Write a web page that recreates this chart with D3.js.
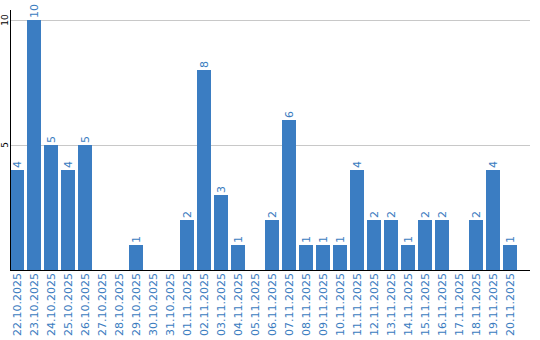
<!DOCTYPE html>
<html>
<head>
<meta charset="utf-8">
<script src="https://cdn.jsdelivr.net/npm/d3@7"></script>
<style>
  body { margin: 0; background: #fff; }
  text { font-family: "DejaVu Sans", sans-serif; }
</style>
</head>
<body>
<div id="chart"></div>
<script>
// daily counts
var days = ["22.10.2025","23.10.2025","24.10.2025","25.10.2025","26.10.2025","27.10.2025",
	"28.10.2025","29.10.2025","30.10.2025","31.10.2025","01.11.2025","02.11.2025",
	"03.11.2025","04.11.2025","05.11.2025","06.11.2025","07.11.2025","08.11.2025",
	"09.11.2025","10.11.2025","11.11.2025","12.11.2025","13.11.2025","14.11.2025",
	"15.11.2025","16.11.2025","17.11.2025","18.11.2025","19.11.2025","20.11.2025"];
var counts = [4,10,5,4,5,0,0,1,0,0,2,8,3,1,0,2,6,1,1,1,4,2,2,1,2,2,0,2,4,1];
var yTicks = [5, 10];

var w = 540, h = 340;
var barColor = "#3b7dc2";
var labelColor = "#3a7cc0";

var svg = d3.select("#chart").append("svg")
	.attr("width", w)
	.attr("height", h);

var x = d3.scaleBand().domain(days).range([10, 517]).paddingInner(3/17).paddingOuter(0);
var y = d3.scaleLinear().domain([0, 10.4]).range([270, 10]);

var values = counts.map(function(c, i) { return {day: days[i], v: c}; })
	.filter(function(d) { return d.v > 0; });

// gridlines
svg.append("g").selectAll("line")
	.data(yTicks)
	.enter().append("line")
	.attr("x1", 10).attr("x2", 530)
	.attr("y1", function(d) { return y(d) + 0.5; })
	.attr("y2", function(d) { return y(d) + 0.5; })
	.attr("stroke", "#c8c8c8");

// bars
svg.append("g").selectAll("rect")
	.data(values)
	.enter().append("rect")
	.attr("x", function(d) { return x(d.day); })
	.attr("y", function(d) { return y(d.v); })
	.attr("width", x.bandwidth())
	.attr("height", function(d) { return y(0) - y(d.v); })
	.attr("fill", barColor);

// value labels
svg.append("g").selectAll("text")
	.data(values)
	.enter().append("text")
	.attr("transform", function(d) {
		return "translate(" + (x(d.day) + x.bandwidth() / 2 + 4) + "," + (y(d.v) - 2) + ") rotate(-90)";
	})
	.attr("fill", labelColor)
	.style("font-size", "11px")
	.text(function(d) { return d.v; });

// y axis
svg.append("line")
	.attr("x1", 10.5).attr("x2", 10.5)
	.attr("y1", 10).attr("y2", 270)
	.attr("stroke", "#000");

svg.append("g").selectAll("text")
	.data(yTicks)
	.enter().append("text")
	.attr("transform", function(d) { return "translate(8," + y(d) + ") rotate(-90)"; })
	.attr("text-anchor", "middle")
	.attr("fill", "#000")
	.style("font-size", "9px")
	.text(function(d) { return d; });

// x baseline
svg.append("line")
	.attr("x1", 10).attr("x2", 530)
	.attr("y1", 270.5).attr("y2", 270.5)
	.attr("stroke", "#000");

// x labels
svg.append("g").selectAll("text")
	.data(days)
	.enter().append("text")
	.attr("transform", function(d) {
		return "translate(" + (x(d) + x.bandwidth() / 2 + 4) + ",273) rotate(-90)";
	})
	.attr("text-anchor", "end")
	.attr("fill", labelColor)
	.style("font-size", "11px")
	.text(function(d) { return d; });
</script>
</body>
</html>
